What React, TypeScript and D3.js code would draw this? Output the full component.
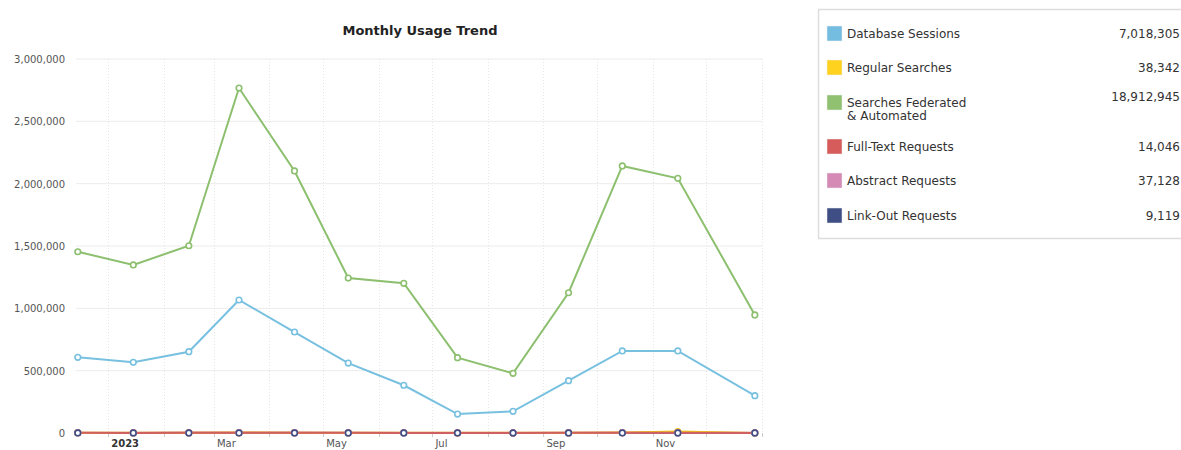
import React, { useEffect, useRef } from 'react';
import * as d3 from 'd3';

const dates = [
  '2022-12-15', '2023-01-15', '2023-02-15', '2023-03-15', '2023-04-15', '2023-05-15', '2023-06-15',
  '2023-07-15', '2023-08-15', '2023-09-15', '2023-10-15', '2023-11-15', '2023-12-28',
];
const databaseSessions = [607000, 567000, 652000, 1067000, 810000, 561000, 383000, 152000, 174000, 420000, 658000, 658000, 299000];
const regularSearches = [2500, 2300, 2700, 3200, 2600, 2200, 2000, 1200, 1300, 2400, 3100, 11800, 1000];
const searchesFederated = [1454000, 1348000, 1502000, 2767000, 2102000, 1243000, 1201000, 604000, 479000, 1125000, 2142000, 2043000, 947000];
const fullTextRequests = [1100, 1000, 1200, 1600, 1300, 1100, 900, 600, 700, 1100, 1500, 1300, 546];
const abstractRequests = [3000, 2800, 3300, 4200, 3500, 2900, 2500, 1500, 1600, 2800, 3800, 3600, 1628];
const linkOutRequests = [750, 700, 800, 1000, 850, 700, 600, 400, 450, 700, 900, 850, 419];

const legendNames = ['Database Sessions', 'Regular Searches', 'Searches Federated\n& Automated', 'Full-Text Requests', 'Abstract Requests', 'Link-Out Requests'];
const legendTotals = [7018305, 38342, 18912945, 14046, 37128, 9119];
const yTicks = [0, 500000, 1000000, 1500000, 2000000, 2500000, 3000000];

const FONT = "Verdana, 'DejaVu Sans', sans-serif";

export default function App() {
  const svgRef = useRef<SVGSVGElement>(null);

  useEffect(() => {
    if (!svgRef.current) return;
    const svg = d3.select(svgRef.current);
    svg.selectAll('*').remove();

    const width = 1181, height = 450;
    const left = 76, right = 762, top = 59, bottom = 433;
    const parse = d3.timeParse('%Y-%m-%d');
    const xDates = dates.map(d => parse(d) as Date);

    const x = d3.scaleTime()
      .domain([new Date(2022, 11, 14), new Date(2024, 0, 1)])
      .range([left, right]);
    const y = d3.scaleLinear().domain([0, 3000000]).range([bottom, top]);

    svg.append('rect').attr('width', width).attr('height', height).attr('fill', '#fff');

    svg.append('text')
      .attr('x', 420).attr('y', 35).attr('text-anchor', 'middle')
      .attr('font-family', FONT).attr('font-weight', 'bold').attr('font-size', '13px')
      .attr('fill', '#222').text('Monthly Usage Trend');

    // horizontal grid
    svg.append('g').selectAll('line').data(yTicks.slice(1)).enter().append('line')
      .attr('x1', left).attr('x2', right)
      .attr('y1', d => y(d)).attr('y2', d => y(d))
      .attr('stroke', '#ececec').attr('stroke-width', 1);

    // vertical monthly grid (dotted)
    const months = d3.timeMonth.range(new Date(2023, 0, 1), new Date(2024, 0, 2));
    svg.append('g').selectAll('line').data(months).enter().append('line')
      .attr('x1', d => Math.round(x(d)) + 0.5).attr('x2', d => Math.round(x(d)) + 0.5)
      .attr('y1', top).attr('y2', bottom)
      .attr('stroke', '#e6e6e6').attr('stroke-width', 1).attr('stroke-dasharray', '1,2');

    // y labels
    svg.append('g').selectAll('text').data(yTicks).enter().append('text')
      .attr('x', 65).attr('y', d => y(d) + 4).attr('text-anchor', 'end')
      .attr('font-family', FONT).attr('font-size', '10px').attr('fill', '#555')
      .text(d => d3.format(',')(d));

    // x axis ticks + labels every 2 months
    const labelMonths = d3.timeMonth.every(2)!.range(new Date(2023, 0, 1), new Date(2023, 11, 31));
    const xg = svg.append('g');
    xg.selectAll('line').data(months).enter().append('line')
      .attr('x1', d => Math.round(x(d)) + 0.5).attr('x2', d => Math.round(x(d)) + 0.5)
      .attr('y1', bottom).attr('y2', bottom + 4)
      .attr('stroke', '#ccc');
    xg.selectAll('text').data(labelMonths).enter().append('text')
      .attr('x', d => x(d) + 3).attr('y', 447)
      .attr('font-family', FONT).attr('font-size', '10px')
      .attr('font-weight', d => d.getMonth() === 0 ? 'bold' : 'normal')
      .attr('fill', d => d.getMonth() === 0 ? '#333' : '#555')
      .text(d => d.getMonth() === 0 ? d3.timeFormat('%Y')(d) : d3.timeFormat('%b')(d));

    const series = [
      { values: linkOutRequests, color: '#3f4f85' },
      { values: abstractRequests, color: '#d48ab5' },
      { values: regularSearches, color: '#f2c21c' },
      { values: fullTextRequests, color: '#d06060' },
      { values: searchesFederated, color: '#8cbf6e' },
      { values: databaseSessions, color: '#78c0e0' },
    ];
    const line = d3.line<number>().x((d, i) => x(xDates[i])).y(d => y(d));

    series.forEach(s => {
      svg.append('path').datum(s.values).attr('d', line)
        .attr('fill', 'none').attr('stroke', s.color).attr('stroke-width', 2);
    });
    const markerOrder = [series[2], series[3], series[1], series[0], series[4], series[5]];
    markerOrder.forEach(s => {
      svg.append('g').selectAll('circle').data(s.values).enter().append('circle')
        .attr('cx', (d, i) => x(xDates[i])).attr('cy', d => y(d)).attr('r', 2.8)
        .attr('fill', '#fff').attr('stroke', s.color).attr('stroke-width', 1.6);
    });

    // legend
    const legendColors = ['#74bde0', '#ffd21f', '#8fc170', '#d65b5b', '#d48ab5', '#3f4f85'];
    const rowY = [33, 67, 102, 146, 180, 215];
    svg.append('rect').attr('x', 818.5).attr('y', 9.5).attr('width', 380).attr('height', 229)
      .attr('fill', '#fff').attr('stroke', '#ddd').attr('stroke-width', 1.5);
    const lg = svg.append('g');
    legendNames.forEach((name, i) => {
      lg.append('rect').attr('x', 827).attr('y', rowY[i] - 7).attr('width', 15).attr('height', 15)
        .attr('fill', legendColors[i]).attr('stroke', '#eee').attr('stroke-width', 0.5);
      const t = lg.append('text').attr('x', 847).attr('y', rowY[i] + 5)
        .attr('font-family', FONT).attr('font-size', '12px').attr('fill', '#333');
      name.split('\n').forEach((part, j) => {
        t.append('tspan').attr('x', 847).attr('dy', j === 0 ? 0 : 13).text(part);
      });
      lg.append('text').attr('x', 1180).attr('y', rowY[i] + (i === 2 ? -1 : 5)).attr('text-anchor', 'end')
        .attr('font-family', FONT).attr('font-size', '12px').attr('fill', '#333')
        .text(d3.format(',')(legendTotals[i]));
    });
  }, []);

  return (
    <div style={{ position: 'fixed', left: 0, top: 0, width: 1181, height: 450, overflow: 'hidden', background: '#fff' }}>
      <svg ref={svgRef} width={1181} height={450} style={{ display: 'block' }} />
    </div>
  );
}
